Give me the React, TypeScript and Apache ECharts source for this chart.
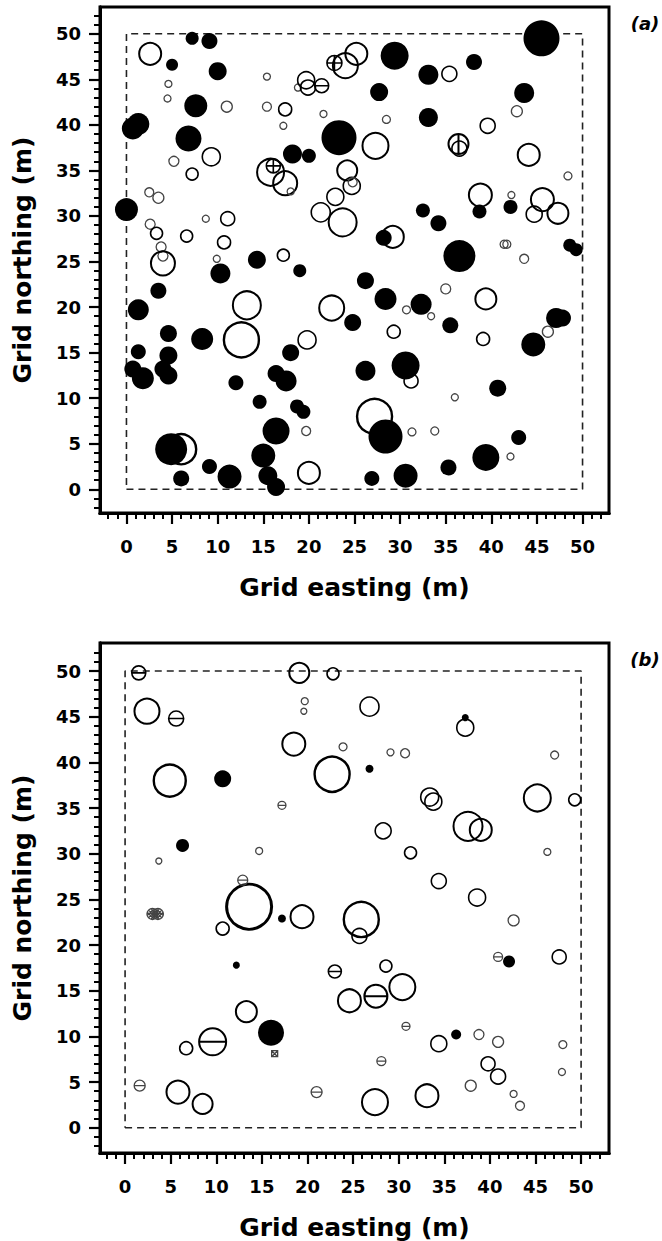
import React, { useEffect, useRef } from "react";
import * as echarts from "echarts";

// ---------- axis / tick data ----------
const majorTicks = [0, 5, 10, 15, 20, 25, 30, 35, 40, 45, 50];
const minorTicks = [-2, -1, 0, 1, 2, 3, 4, 5, 6, 7, 8, 9, 10, 11, 12, 13, 14, 15, 16, 17, 18, 19, 20, 21, 22, 23, 24, 25, 26, 27, 28, 29, 30, 31, 32, 33, 34, 35, 36, 37, 38, 39, 40, 41, 42, 43, 44, 45, 46, 47, 48, 49, 50, 51, 52];
const plotBoundary = [[0, 0], [50, 0], [50, 50], [0, 50], [0, 0]];
const xTitle = "Grid easting (m)";
const yTitle = "Grid northing (m)";

// ---------- panel (a): [easting, northing, diameter] ----------
const aFilled = [
  [45.5, 49.5, 36], [7.2, 49.5, 13], [9.1, 49.2, 16], [5.0, 46.6, 12], [10.0, 45.9, 18],
  [7.6, 42.1, 23], [0.7, 39.6, 22], [1.3, 40.1, 22], [6.8, 38.5, 26], [18.2, 36.8, 19],
  [20.0, 36.6, 14], [0.0, 30.7, 23], [14.3, 25.2, 18], [10.3, 23.7, 20], [19.0, 24.0, 13],
  [3.5, 21.8, 16], [29.4, 47.6, 28], [33.1, 45.5, 20], [38.1, 46.9, 16], [27.7, 43.6, 18],
  [43.6, 43.5, 20], [33.1, 40.8, 19], [23.3, 38.6, 35], [32.5, 30.6, 14], [34.2, 29.2, 16],
  [28.2, 27.6, 16], [38.7, 30.5, 14], [42.1, 31.0, 14], [36.5, 25.6, 32], [48.6, 26.8, 13],
  [49.3, 26.3, 13], [26.2, 22.9, 17], [28.4, 20.9, 22], [32.3, 20.3, 21], [24.8, 18.3, 17],
  [35.5, 18.0, 16], [47.1, 18.8, 20], [47.8, 18.8, 17], [44.6, 15.9, 24], [26.2, 13.0, 20],
  [30.6, 13.6, 28], [40.7, 11.1, 17], [28.4, 5.8, 34], [43.0, 5.7, 15], [39.4, 3.5, 27],
  [35.3, 2.4, 16], [26.9, 1.2, 15], [30.6, 1.5, 24], [1.3, 19.7, 21], [4.6, 17.1, 17],
  [1.3, 15.1, 15], [8.3, 16.5, 22], [4.6, 14.7, 18], [0.7, 13.2, 17], [1.8, 12.2, 22],
  [4.0, 13.2, 17], [4.6, 12.5, 18], [12.0, 11.7, 15], [18.0, 15.0, 17], [16.4, 12.7, 17],
  [17.5, 11.9, 21], [14.6, 9.6, 14], [18.7, 9.1, 14], [19.4, 8.5, 14], [16.4, 6.4, 27],
  [4.9, 4.4, 32], [6.0, 1.2, 16], [9.1, 2.5, 15], [11.3, 1.4, 24], [15.0, 3.7, 24],
  [15.5, 1.5, 19], [16.4, 0.25, 18],
];
const aOpen = [
  [35.4, 45.6, 15], [42.8, 41.5, 11], [39.6, 39.9, 15], [27.3, 37.7, 26], [28.5, 40.6, 8],
  [44.1, 36.7, 22], [48.4, 34.4, 8], [24.2, 35.0, 20], [24.7, 33.3, 17], [24.8, 33.7, 9],
  [22.9, 32.1, 17], [23.7, 29.3, 28], [21.3, 30.4, 19], [29.2, 27.7, 22], [38.8, 32.3, 23],
  [42.2, 32.3, 7], [45.6, 31.8, 23], [44.7, 30.2, 16], [47.3, 30.3, 21], [41.4, 26.9, 8],
  [41.7, 26.9, 8], [43.6, 25.3, 9], [35.0, 22.0, 10], [39.4, 20.9, 21], [30.7, 19.7, 8],
  [33.4, 19.0, 7], [29.3, 17.3, 13], [39.1, 16.5, 13], [46.2, 17.3, 11], [31.2, 11.9, 14],
  [36.0, 10.1, 7], [27.2, 8.0, 35], [31.3, 6.3, 8], [33.8, 6.4, 8], [42.1, 3.6, 7],
  [17.2, 25.7, 12], [13.2, 20.2, 28], [22.5, 19.9, 25], [12.6, 16.4, 35], [19.8, 16.4, 18],
  [19.7, 6.4, 9], [20.0, 1.8, 22], [6.0, 4.4, 30], [2.6, 47.8, 22], [4.6, 44.5, 7],
  [4.5, 42.9, 7], [11.0, 42.0, 11], [15.4, 45.3, 7], [15.4, 42.0, 9], [17.4, 41.7, 13],
  [17.2, 39.9, 7], [21.6, 41.2, 7], [18.8, 44.1, 7], [19.7, 44.9, 17], [19.9, 44.1, 15],
  [24.0, 46.5, 25], [25.2, 47.8, 22], [15.8, 34.8, 27], [17.4, 33.6, 24], [18.0, 32.7, 7],
  [11.1, 29.7, 14], [10.7, 27.1, 13], [9.3, 36.5, 18], [5.2, 36.0, 10], [7.2, 34.6, 12],
  [2.5, 32.6, 9], [3.5, 32.0, 11], [8.7, 29.7, 7], [2.6, 29.1, 10], [3.3, 28.1, 12],
  [6.6, 27.8, 12], [3.8, 26.6, 10], [4.0, 25.6, 10], [4.0, 24.8, 24], [9.9, 25.3, 7],
  [36.5, 37.4, 15],
];
const aOpenHLine = [[21.4, 44.3, 14]];
const aOpenVLine = [[36.4, 37.9, 20]];
const aOpenCross = [[22.8, 46.8, 15], [16.1, 35.5, 14]];

// ---------- panel (b): [easting, northing, diameter] ----------
const bFilled = [
  [10.7, 38.2, 17], [6.3, 30.9, 13], [17.2, 22.9, 8], [37.3, 44.9, 7], [26.8, 39.3, 8],
  [42.1, 18.2, 12], [36.3, 10.2, 10], [12.2, 17.8, 7], [16.0, 10.4, 26],
];
const bOpen = [
  [2.4, 45.6, 25], [4.9, 38.0, 32], [18.5, 42.0, 23], [19.1, 49.8, 20], [19.7, 46.7, 7],
  [19.6, 45.6, 6], [22.8, 49.7, 12], [26.8, 46.1, 19], [23.9, 41.7, 8], [29.1, 41.1, 7],
  [30.7, 41.0, 9], [22.7, 38.7, 35], [33.4, 36.2, 18], [33.8, 35.7, 17], [37.3, 43.8, 17],
  [47.1, 40.8, 8], [45.2, 36.1, 27], [49.3, 35.9, 12], [37.6, 33.0, 29], [39.0, 32.6, 22],
  [28.3, 32.5, 16], [31.3, 30.1, 12], [46.3, 30.2, 7], [14.7, 30.3, 7], [3.7, 29.2, 6],
  [34.4, 27.0, 15], [38.6, 25.2, 17], [42.6, 22.7, 11], [13.6, 24.2, 45], [19.4, 23.1, 23],
  [10.7, 21.8, 13], [25.9, 22.8, 35], [25.7, 21.0, 15], [47.6, 18.7, 14], [28.6, 17.7, 12],
  [24.6, 13.9, 23], [30.4, 15.4, 26], [34.4, 9.2, 16], [38.8, 10.2, 10], [40.9, 9.4, 11],
  [48.0, 9.1, 8], [39.8, 7.0, 14], [40.9, 5.6, 15], [47.9, 6.1, 7], [37.9, 4.6, 11],
  [42.6, 3.7, 7], [43.3, 2.4, 9], [27.4, 2.8, 26], [33.1, 3.5, 23], [13.3, 12.7, 21],
  [6.7, 8.7, 13], [5.8, 3.9, 23], [8.5, 2.6, 20],
];
const bOpenHLine = [
  [1.5, 49.8, 14], [5.6, 44.8, 15], [17.2, 35.3, 8], [12.9, 27.1, 10], [40.9, 18.7, 9],
  [23.0, 17.1, 13], [27.5, 14.4, 23], [30.8, 11.1, 8], [28.1, 7.3, 9], [9.6, 9.4, 27],
  [1.6, 4.6, 11], [21.0, 3.9, 11],
];
const bHatched = [[3.0, 23.4, 11], [3.6, 23.4, 11]];
const bHatchedSquare = [[16.4, 8.1, 6]];

// ---------- symbols ----------
const CIRC = "M0,50 A50,50 0 1 1 100,50 A50,50 0 1 1 0,50 Z";
const SYM_HLINE = "path://" + CIRC + " M0,50 L100,50";
const SYM_VLINE = "path://" + CIRC + " M50,0 L50,100";
const SYM_CROSS = "path://" + CIRC + " M0,50 L100,50 M50,0 L50,100";
const SYM_HATCH = "path://" + CIRC + " M15,15 L85,85 M85,15 L15,85 M35,3 L97,65 M3,35 L65,97 M65,3 L3,65 M97,35 L35,97";
const SYM_HSQ = "path://M0,0 L100,0 L100,100 L0,100 Z M0,0 L100,100 M100,0 L0,100";

const FONT = "DejaVu Sans";

function strokeW(d: number) {
  if (d >= 40) return 3;
  if (d >= 30) return 2.4;
  if (d >= 20) return 2;
  if (d >= 12) return 1.6;
  return 1.3;
}

function openItems(arr: number[][]) {
  return arr.map((p) => ({
    value: p,
    itemStyle: {
      color: "rgba(0,0,0,0)",
      borderColor: p[2] < 12 ? "#444" : "#000",
      borderWidth: strokeW(p[2]),
      opacity: 1,
    },
  }));
}

function scatter(name: string, arr: number[][], gi: number, symbol: string, filled: boolean, extra: any = {}) {
  return {
    name,
    type: "scatter",
    xAxisIndex: gi * 2,
    yAxisIndex: gi * 2,
    symbol,
    symbolSize: (v: number[]) => v[2],
    silent: true,
    emphasis: { disabled: true },
    itemStyle: filled ? { color: "#000", borderWidth: 0, opacity: 1 } : { opacity: 1 },
    data: filled ? arr : openItems(arr),
    z: 3,
    ...extra,
  };
}

const GRIDS = [
  { left: 100, top: 7, width: 509, height: 506, xmin: -2.9, xmax: 52.9, ymin: -2.6, ymax: 52.94 },
  { left: 100, top: 643, width: 509, height: 510, xmin: -2.75, xmax: 53.06, ymin: -2.77, ymax: 53.07 },
];

function axesFor(kind: "x" | "y", gi: number) {
  const g = GRIDS[gi];
  const min = kind === "x" ? g.xmin : g.ymin;
  const max = kind === "x" ? g.xmax : g.ymax;
  const common = {
    type: "value",
    gridIndex: gi,
    min,
    max,
    position: kind === "x" ? "bottom" : "left",
    splitLine: { show: false },
    axisLine: { show: true, onZero: false, lineStyle: { color: "#000", width: 3 } },
  };
  return [
    {
      ...common,
      axisTick: { show: true, length: 11, customValues: majorTicks, lineStyle: { color: "#000", width: 2.2 } },
      axisLabel: {
        show: true,
        customValues: majorTicks,
        fontFamily: FONT,
        fontWeight: "bold",
        fontSize: 18,
        color: "#000",
        margin: kind === "x" ? 24 : 19,
      },
    },
    {
      ...common,
      axisTick: { show: true, length: 6, customValues: minorTicks, lineStyle: { color: "#000", width: 2 } },
      axisLabel: { show: false },
    },
  ];
}

function titles() {
  const els: any[] = [];
  GRIDS.forEach((g, i) => {
    const cx = g.left + g.width / 2;
    const cy = g.top + g.height / 2;
    els.push({
      type: "text",
      x: cx,
      y: g.top + g.height + 74,
      style: { text: xTitle, fontFamily: FONT, fontWeight: "bold", fontSize: 25, fill: "#000", align: "center", verticalAlign: "middle" },
    });
    els.push({
      type: "text",
      x: 22,
      y: cy,
      rotation: Math.PI / 2,
      style: { text: yTitle, fontFamily: FONT, fontWeight: "bold", fontSize: 25, fill: "#000", align: "center", verticalAlign: "middle" },
    });
    els.push({
      type: "text",
      x: 645,
      y: g.top + 16,
      style: { text: i === 0 ? "(a)" : "(b)", fontFamily: FONT, fontWeight: "bold", fontStyle: "italic", fontSize: 18, fill: "#000", align: "center", verticalAlign: "middle" },
    });
  });
  return els;
}

function boundary(gi: number) {
  return {
    type: "line",
    xAxisIndex: gi * 2,
    yAxisIndex: gi * 2,
    data: plotBoundary,
    symbol: "none",
    silent: true,
    lineStyle: { color: "#222", width: 1.6, type: [7, 5] },
    z: 1,
  };
}

export default function App() {
  const ref = useRef<HTMLDivElement>(null);
  useEffect(() => {
    if (!ref.current) return;
    const chart = echarts.init(ref.current, undefined, { renderer: "svg" });
    const option: any = {
      animation: false,
      backgroundColor: "#fff",
      grid: GRIDS.map((g) => ({
        left: g.left,
        top: g.top,
        width: g.width,
        height: g.height,
        show: true,
        borderColor: "#000",
        borderWidth: 3,
        backgroundColor: "transparent",
        containLabel: false,
      })),
      xAxis: [...axesFor("x", 0), ...axesFor("x", 1)],
      yAxis: [...axesFor("y", 0), ...axesFor("y", 1)],
      graphic: titles(),
      series: [
        boundary(0),
        boundary(1),
        scatter("a open", aOpen, 0, "circle", false),
        scatter("a open hline", aOpenHLine, 0, SYM_HLINE, false),
        scatter("a open vline", aOpenVLine, 0, SYM_VLINE, false),
        scatter("a open cross", aOpenCross, 0, SYM_CROSS, false),
        scatter("a filled", aFilled, 0, "circle", true),
        scatter("b open", bOpen, 1, "circle", false),
        scatter("b open hline", bOpenHLine, 1, SYM_HLINE, false),
        scatter("b hatched", bHatched, 1, SYM_HATCH, false),
        scatter("b hatched square", bHatchedSquare, 1, SYM_HSQ, false),
        scatter("b filled", bFilled, 1, "circle", true),
      ],
    };
    chart.setOption(option);
    return () => chart.dispose();
  }, []);
  return (
    <div
      ref={ref}
      style={{ position: "absolute", left: 0, top: 0, width: 662, height: 1241, background: "#fff" }}
    />
  );
}
